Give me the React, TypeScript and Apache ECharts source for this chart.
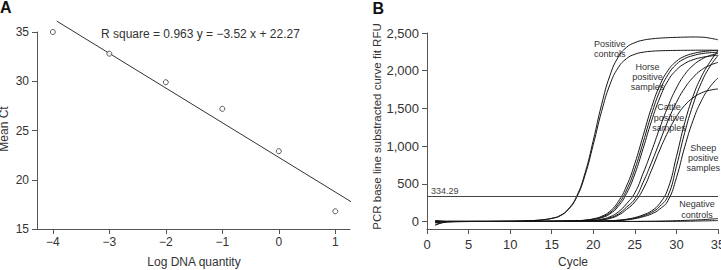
import { useEffect, useRef } from "react";
import * as echarts from "echarts";

// Panel A: standard curve
const logDnaQuantity = [-4, -3, -2, -1, 0, 1];
const meanCt = [35.0, 32.8, 29.9, 27.2, 22.9, 16.8];
const logTicks = [-4, -3, -2, -1, 0, 1];
const rSquare = 0.963;
const fitSlope = -3.52;
const fitIntercept = 22.27;
const fitSpan = [-3.93, 1.28];

// Panel B: amplification curves (RFU per cycle)
const cycles = [
  1, 2, 3, 4, 5, 6, 7, 8, 9, 10, 11, 12, 13, 14, 15, 16, 17, 18, 19, 20, 21, 22, 23, 24, 25, 26, 27, 28,
  29, 30, 31, 32, 33, 34, 35,
];
const positiveControl1 = [
  -45, -12, -4, -2, -1, 0, 0, 1, 2, 3, 5, 8, 14, 24, 42, 78, 165, 335, 640, 1075, 1550, 1935, 2180, 2310,
  2372, 2405, 2422, 2432, 2438, 2442, 2445, 2447, 2445, 2432, 2410,
];
const positiveControl2 = [
  -50, -14, -5, -2, -1, 0, 0, 1, 2, 3, 5, 8, 13, 23, 40, 74, 158, 320, 610, 1020, 1460, 1815, 2040, 2160,
  2218, 2245, 2258, 2264, 2267, 2269, 2270, 2271, 2272, 2272, 2268,
];
const horseSample1 = [
  10, 2, 0, 0, 0, 0, 0, 0, 0, 0, 0, 1, 1, 2, 3, 4, 6, 10, 18, 35, 68, 135, 262, 470, 770, 1140, 1510, 1805,
  2005, 2125, 2192, 2228, 2250, 2263, 2272,
];
const horseSample2 = [
  8, 1, 0, 0, 0, 0, 0, 0, 0, 0, 0, 1, 1, 2, 2, 3, 5, 8, 15, 30, 58, 115, 228, 415, 695, 1050, 1420, 1730,
  1950, 2085, 2160, 2200, 2225, 2238, 2245,
];
const horseSample3 = [
  -15, -3, 0, 0, 0, 0, 0, 0, 0, 0, 0, 0, 1, 1, 2, 3, 4, 7, 13, 26, 50, 100, 200, 370, 630, 970, 1330, 1640,
  1870, 2010, 2095, 2145, 2175, 2193, 2205,
];
const cattleSample1 = [
  5, 1, 0, 0, 0, 0, 0, 0, 0, 0, 0, 0, 1, 1, 2, 2, 3, 4, 8, 14, 30, 62, 125, 235, 380, 640, 930, 1240, 1530,
  1770, 1950, 2070, 2150, 2200, 2230,
];
const cattleSample2 = [
  0, 0, 0, 0, 0, 0, 0, 0, 0, 0, 0, 0, 1, 1, 1, 2, 3, 3, 6, 11, 23, 48, 98, 190, 300, 520, 780, 1060, 1340,
  1580, 1770, 1910, 2010, 2070, 2110,
];
const cattleSample3 = [
  -10, -2, 0, 0, 0, 0, 0, 0, 0, 0, 0, 0, 0, 1, 1, 1, 2, 3, 5, 9, 19, 40, 82, 160, 260, 430, 680, 950, 1190,
  1390, 1540, 1640, 1705, 1740, 1758,
];
const sheepSample1 = [
  0, 0, 0, 0, 0, 0, 0, 0, 0, 0, 0, 0, 0, 0, 1, 1, 2, 2, 3, 4, 6, 10, 17, 30, 52, 88, 140, 240, 440, 860,
  1310, 1660, 1920, 2110, 2265,
];
const sheepSample2 = [
  0, 0, 0, 0, 0, 0, 0, 0, 0, 0, 0, 0, 0, 0, 0, 1, 1, 2, 2, 3, 5, 8, 14, 25, 44, 75, 120, 200, 345, 730, 1180,
  1550, 1840, 2050, 2200,
];
const sheepSample3 = [
  0, 0, 0, 0, 0, 0, 0, 0, 0, 0, 0, 0, 0, 0, 0, 1, 1, 1, 2, 3, 4, 7, 12, 21, 37, 63, 100, 165, 280, 580, 990,
  1340, 1600, 1780, 1905,
];
const negativeControl1 = [
  -20, -5, 0, 0, 0, 0, 0, 0, 0, 0, 0, 0, 0, 0, 0, 0, 0, 0, 0, 0, 0, 0, 0, 0, 0, 2, 3, 5, 7, 10, 14, 18, 23,
  30, 38,
];
const negativeControl2 = [
  -5, -1, 0, 0, 0, 0, 0, 0, 0, 0, 0, 0, 0, 0, 0, 0, 0, 0, 0, 0, 0, 0, 0, 0, 0, 0, 0, 0, 1, 2, 3, 5, 7, 9, 12,
];
const threshold = 334.29;
const rfuTicks = [0, 500, 1000, 1500, 2000, 2500];

const curves = [
  positiveControl1,
  positiveControl2,
  horseSample1,
  horseSample2,
  horseSample3,
  cattleSample1,
  cattleSample2,
  cattleSample3,
  sheepSample1,
  sheepSample2,
  sheepSample3,
  negativeControl1,
  negativeControl2,
];

const FONT = "'Liberation Sans', Arial, Helvetica, sans-serif";
const AXIS = { color: "#555", width: 1 };
const TEXT = "#333";

const minusFormat = (v: number) => (v < 0 ? "\u2212" + Math.abs(v) : String(v));

function buildOption() {
  const curveSeries = curves.map((values, k) => ({
    type: "line",
    xAxisIndex: 1,
    yAxisIndex: 1,
    data: cycles.map((c, i) => [c, values[i]]),
    symbol: "none",
    showSymbol: false,
    smooth: 0.5,
    silent: true,
    lineStyle: { color: "#151515", width: 1 },
    z: 2,
    ...(k === curves.length - 1
      ? {
          markLine: {
            silent: true,
            symbol: ["none", "none"],
            lineStyle: { color: "#444", width: 1, type: "solid" },
            label: {
              show: true,
              position: "insideStartTop",
              formatter: String(threshold),
              fontSize: 9,
              fontFamily: FONT,
              color: "#444",
              distance: [4, 1],
            },
            data: [{ yAxis: threshold }],
          },
        }
      : {}),
  }));

  return {
    animation: false,
    backgroundColor: "#fff",
    grid: [
      { left: 37, top: 32, width: 313, height: 197, containLabel: false, outerBoundsMode: "none" },
      { left: 427, top: 33, width: 291, height: 196, containLabel: false, outerBoundsMode: "none" },
    ],
    xAxis: [
      {
        gridIndex: 0,
        type: "value",
        min: -4.28,
        max: 1.26,
        axisLine: { show: true, onZero: false, lineStyle: AXIS },
        axisTick: { show: true, length: 5, customValues: logTicks, lineStyle: AXIS },
        axisLabel: {
          customValues: logTicks,
          formatter: minusFormat,
          fontSize: 12,
          fontFamily: FONT,
          color: TEXT,
          margin: 7,
        },
        splitLine: { show: false },
      },
      {
        gridIndex: 1,
        type: "value",
        min: 0,
        max: 35,
        interval: 5,
        axisLine: { show: true, onZero: false, lineStyle: AXIS },
        axisTick: { show: true, length: 5, lineStyle: AXIS },
        axisLabel: { fontSize: 13, fontFamily: FONT, color: TEXT, margin: 9 },
        splitLine: { show: false },
      },
    ],
    yAxis: [
      {
        gridIndex: 0,
        type: "value",
        min: 15,
        max: 35,
        interval: 5,
        axisLine: { show: true, onZero: false, lineStyle: AXIS },
        axisTick: { show: true, length: 5, lineStyle: AXIS },
        axisLabel: { fontSize: 12, fontFamily: FONT, color: TEXT, margin: 8 },
        splitLine: { show: false },
      },
      {
        gridIndex: 1,
        type: "value",
        min: -100,
        max: 2500,
        axisLine: { show: true, onZero: false, lineStyle: AXIS },
        axisTick: { show: true, length: 5, customValues: rfuTicks, lineStyle: AXIS },
        axisLabel: {
          customValues: rfuTicks,
          formatter: (v: number) => v.toLocaleString("en-US"),
          fontSize: 13,
          fontFamily: FONT,
          color: TEXT,
          margin: 8,
        },
        splitLine: { show: false },
      },
    ],
    series: [
      {
        type: "line",
        xAxisIndex: 0,
        yAxisIndex: 0,
        data: fitSpan.map((x) => [x, fitSlope * x + fitIntercept]),
        symbol: "none",
        clip: false,
        silent: true,
        lineStyle: { color: "#333", width: 1 },
        z: 2,
      },
      {
        type: "scatter",
        xAxisIndex: 0,
        yAxisIndex: 0,
        data: logDnaQuantity.map((x, i) => [x, meanCt[i]]),
        symbol: "circle",
        symbolSize: 5,
        clip: false,
        silent: true,
        itemStyle: { color: "#fff", borderColor: "#333", borderWidth: 1 },
        z: 3,
      },
      ...curveSeries,
    ],
    graphic: [
      { type: "text", x: 0, y: 7.5, style: { text: "A", fontSize: 16, fontWeight: "bold", fontFamily: FONT, fill: "#111", align: "left", verticalAlign: "middle" } },
      { type: "text", x: 372.5, y: 8.3, style: { text: "B", fontSize: 16, fontWeight: "bold", fontFamily: FONT, fill: "#111", align: "left", verticalAlign: "middle" } },
      {
        type: "text",
        x: 101,
        y: 34,
        style: {
          text: `R square = ${rSquare} y = \u2212${Math.abs(fitSlope)} x + ${fitIntercept}`,
          fontSize: 12,
          fontFamily: FONT,
          fill: TEXT,
          align: "left",
          verticalAlign: "middle",
        },
      },
      { type: "text", x: 3.5, y: 129, rotation: Math.PI / 2, style: { text: "Mean Ct", fontSize: 12, fontFamily: FONT, fill: TEXT, align: "center", verticalAlign: "middle" } },
      { type: "text", x: 194, y: 262, style: { text: "Log DNA quantity", fontSize: 12, fontFamily: FONT, fill: TEXT, align: "center", verticalAlign: "middle" } },
      {
        type: "text",
        x: 377.3,
        y: 126.5,
        rotation: Math.PI / 2,
        style: { text: "PCR base line substracted curve fit RFU", fontSize: 11.5, fontFamily: FONT, fill: TEXT, align: "center", verticalAlign: "middle" },
      },
      { type: "text", x: 573, y: 261.5, style: { text: "Cycle", fontSize: 12, fontFamily: FONT, fill: TEXT, align: "center", verticalAlign: "middle" } },
      { type: "text", x: 609.7, y: 49.3, style: { text: "Positive\ncontrols", fontSize: 9, lineHeight: 10, fontFamily: FONT, fill: TEXT, align: "center", verticalAlign: "middle" } },
      { type: "text", x: 647.5, y: 76.7, style: { text: "Horse\npositive\nsamples", fontSize: 9, lineHeight: 10, fontFamily: FONT, fill: TEXT, align: "center", verticalAlign: "middle" } },
      { type: "text", x: 669, y: 117.7, style: { text: "Cattle\npositive\nsamples", fontSize: 9, lineHeight: 10.7, fontFamily: FONT, fill: TEXT, align: "center", verticalAlign: "middle" } },
      { type: "text", x: 703.3, y: 158, style: { text: "Sheep\npositive\nsamples", fontSize: 9, lineHeight: 10, fontFamily: FONT, fill: TEXT, align: "center", verticalAlign: "middle" } },
      { type: "text", x: 697, y: 209.5, style: { text: "Negative\ncontrols", fontSize: 9, lineHeight: 10.5, fontFamily: FONT, fill: TEXT, align: "center", verticalAlign: "middle" } },
    ],
  };
}

export default function App() {
  const ref = useRef<HTMLDivElement>(null);
  useEffect(() => {
    if (!ref.current) return;
    const chart = echarts.init(ref.current, null, { renderer: "svg" });
    chart.setOption(buildOption() as any);
    return () => chart.dispose();
  }, []);
  return (
    <div
      ref={ref}
      style={{ position: "absolute", left: 0, top: 0, width: 721, height: 270, background: "#fff" }}
    />
  );
}
